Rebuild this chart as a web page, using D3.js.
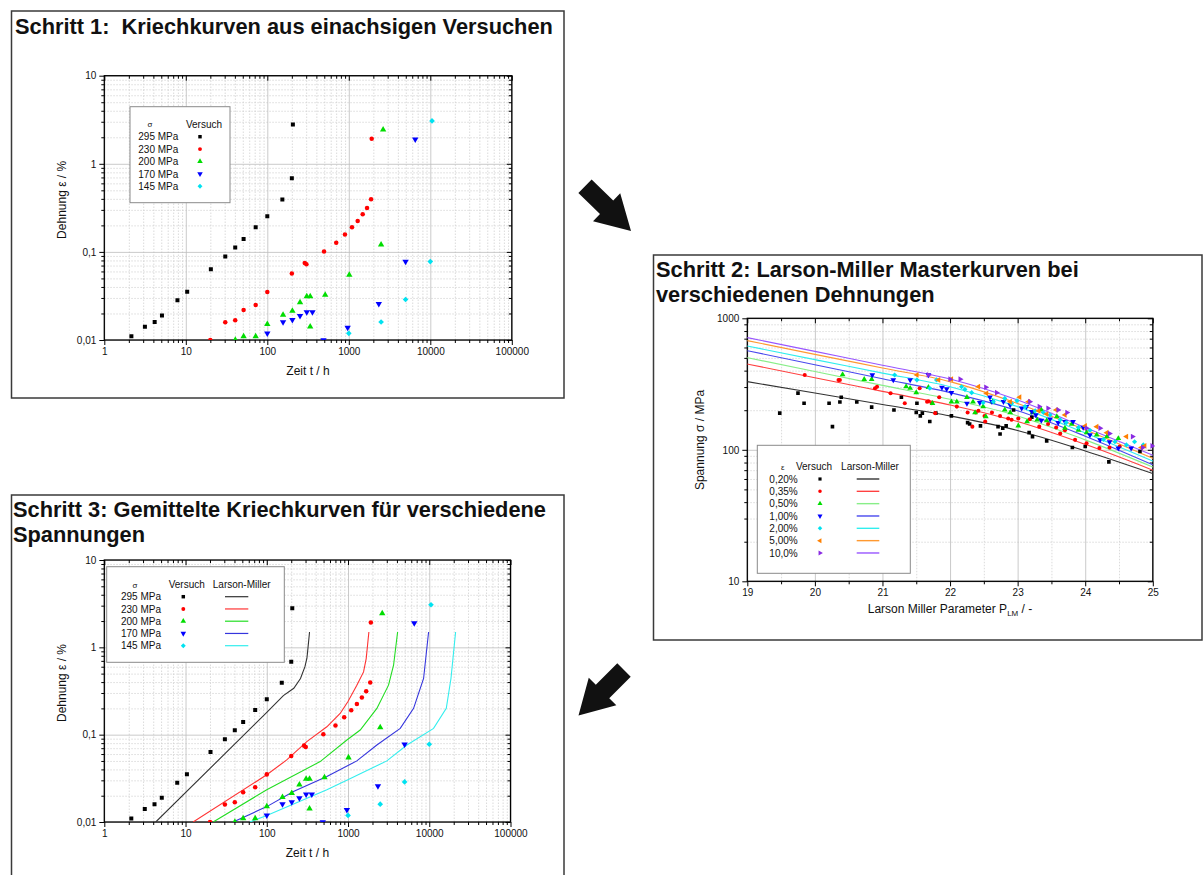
<!DOCTYPE html>
<html lang="de">
<head>
<meta charset="utf-8">
<title>Kriechkurven und Larson-Miller Masterkurven</title>
<script src="https://cdn.jsdelivr.net/npm/d3@7"></script>
<style>
  html, body { margin: 0; padding: 0; background: #fff; }
  svg { display: block; }
  text { font-family: "Liberation Sans", Arial, Helvetica, sans-serif; fill: #111; }
</style>
</head>
<body>
<svg id="fig" width="1203" height="875"></svg>
<script>
// ---------- Schritt 1 / 3: uniaxial creep tests, [time t / h, strain ε / %] ----------
const stressLabels = ["295 MPa", "230 MPa", "200 MPa", "170 MPa", "145 MPa"];

const test295 = [[2.15,0.0110],[3.15,0.0141],[4.15,0.0160],[5.1,0.0190],[7.9,0.0282],[10.4,0.0352],
  [20.3,0.0634],[30.5,0.0885],[40.4,0.112],[51.2,0.140],[72,0.191],[100,0.254],[153,0.394],[200,0.685],[206,2.8]];
const test230 = [[20,0.0100],[30.5,0.0159],[40.4,0.0168],[51.2,0.0219],[72,0.0250],[100,0.0351],[200,0.0570],
  [288,0.0749],[302,0.0723],[497,0.101],[701,0.127],[897,0.158],[1095,0.190],[1285,0.224],[1481,0.267],
  [1674,0.315],[1877,0.395],[1910,1.93]];
const test200 = [[40.5,0.0100],[51.2,0.0110],[72,0.0110],[100,0.0151],[156,0.0193],[203,0.0214],[252,0.0267],
  [305,0.0312],[336,0.0312],[336,0.0142],[513,0.0324],[1014,0.0547],[2490,0.121],[2637,2.44]];
const test170 = [[100,0.0119],[156,0.0160],[203,0.0169],[252,0.0188],[305,0.0208],[358,0.0208],[489,0.0100],
  [968,0.0138],[2334,0.0258],[4972,0.0776],[6535,1.90]];
const test145 = [[1000,0.0119],[2490,0.0160],[4972,0.0288],[10000,0.0776],[10500,3.07]];
const testSeries = [test295, test230, test200, test170, test145];

// creep curves recalculated from the Larson-Miller master curves
const lm295 = [[4.3,0.01],[100,0.18],[160,0.28],[215,0.34],[260,0.44],[295,0.6],[312,0.75],[322,1.0],[336,1.5]];
const lm230 = [[12.4,0.01],[100,0.0347],[176,0.0514],[311,0.0832],[549,0.123],[800,0.175],[995,0.238],
  [1284,0.369],[1553,0.523],[1674,0.743],[1806,1.50]];
const lm200 = [[21.9,0.01],[100,0.0234],[454,0.0492],[968,0.0869],[1413,0.113],[2265,0.200],[3152,0.369],
  [3636,0.624],[4077,1.50]];
const lm170 = [[38.5,0.01],[100,0.015],[213,0.0224],[549,0.0332],[1284,0.0501],[2265,0.0762],[4395,0.118],
  [6412,0.200],[8515,0.440],[9811,1.50]];
const lm145 = [[61.8,0.01],[100,0.0119],[549,0.0234],[995,0.0304],[3005,0.0501],[5310,0.0762],[11300,0.118],
  [16200,0.200],[18500,0.440],[21100,1.50]];
const lmSeries = [lm295, lm230, lm200, lm170, lm145];

// ---------- Schritt 2: Larson-Miller parameter vs. stress ----------
const strainLabels = ["0,20%", "0,35%", "0,50%", "1,00%", "2,00%", "5,00%", "10,0%"];
const lmpGrid = [19, 20, 21, 22, 23, 24, 25];
const master020 = [330, 270, 221, 181, 140, 98, 66];
const master035 = [449, 353, 278, 219, 164, 110, 70];
const master050 = [502, 394, 309, 242, 181, 119, 74];
const master100 = [567, 444, 347, 272, 198, 127, 77];
const master200 = [615, 485, 383, 302, 213, 134, 82];
const master500 = [676, 532, 419, 330, 225, 142, 86];
const master1000 = [713, 560, 440, 345, 239, 148, 91];
const masterSeries = [master020, master035, master050, master100, master200, master500, master1000];

const lmp020 = [[19.48,190],[19.75,270],[19.84,226],[20.21,226],[20.26,150],[20.37,231],[20.39,251],[20.62,231],
  [20.84,211],[21.17,201],[21.28,251],[21.50,192],[21.51,226],[21.56,181],[21.59,190],[21.70,164],[21.79,190],
  [22.02,181],[22.26,161],[22.29,157],[22.45,152],[22.71,150],[22.74,132],[22.78,146],[22.83,152],[22.94,201],
  [23.17,135],[23.21,177],[23.22,126],[23.43,117],[23.81,104],[24.0,106],[24.35,81],[24.81,97]];
const lmp035 = [[19.85,371],[20.35,340],[20.37,340],[20.89,294],[20.92,302],[21.12,269],[21.33,226],[21.55,294],
  [21.66,232],[21.68,234],[21.73,226],[21.78,190],[21.84,251],[22.10,213],[22.26,192],[22.33,150],[22.38,192],
  [22.42,198],[22.51,181],[22.52,164],[22.62,192],[22.74,181],[22.86,173],[22.91,169],[23.01,173],[23.18,171],
  [23.32,150],[23.45,157],[23.57,148],[23.63,133],[23.70,141],[23.85,119],[24.02,112],[24.21,103],[24.36,104],[24.51,106]];
const lmp050 = [[20.41,373],[20.73,344],[20.84,344],[21.35,302],[21.41,294],[21.50,272],[21.68,298],[21.74,226],
  [22.02,232],[22.10,232],[22.25,251],[22.34,232],[22.37,192],[22.49,213],[22.53,179],[22.63,232],[22.81,201],
  [22.89,192],[23.01,152],[23.14,164],[23.22,192],[23.29,169],[23.35,201],[23.43,167],[23.58,179],[23.70,146],
  [23.80,157],[23.90,141],[24.02,135],[24.17,130],[24.32,126],[24.49,122]];
const lmp100 = [[20.85,371],[21.16,340],[21.41,340],[21.68,371],[21.88,298],[21.95,290],[22.02,272],[22.25,225],
  [22.44,228],[22.59,251],[22.62,232],[22.79,232],[22.89,219],[23.06,207],[23.13,213],[23.21,195],[23.27,184],
  [23.35,167],[23.48,171],[23.60,161],[23.70,164],[23.82,164],[23.97,148],[24.07,130],[24.22,119],[24.36,115],
  [24.49,103],[24.68,103]];
const lmp200 = [[21.18,371],[21.51,340],[21.70,294],[21.80,340],[22.17,302],[22.22,288],[22.32,272],[22.49,228],
  [22.64,232],[22.81,246],[22.91,225],[22.99,236],[23.11,213],[23.26,198],[23.38,192],[23.48,184],[23.63,169],
  [23.72,161],[23.90,148],[24.07,141],[24.27,120],[24.44,115],[24.61,109],[24.73,115],[24.86,109]];
const lmp500 = [[21.51,371],[21.83,340],[22.02,344],[22.42,302],[22.54,269],[22.89,232],[23.03,251],[23.16,232],
  [23.31,198],[23.43,187],[23.57,201],[23.70,184],[24.0,152],[24.17,150],[24.32,135],[24.61,126],[24.83,104],[24.88,107]];
const lmp1000 = [[21.68,371],[22.0,344],[22.15,344],[22.53,299],[22.69,272],[23.18,232],[23.32,213],[23.45,207],
  [23.60,201],[23.73,192],[24.02,146],[24.22,146],[24.36,133],[24.70,126],[24.85,104],[24.99,107]];
const lmpSeries = [lmp020, lmp035, lmp050, lmp100, lmp200, lmp500, lmp1000];

// ---------- tick values and labels ----------
const timeTicks = [1, 10, 100, 1000, 10000, 100000];
const timeTickLabels = ["1", "10", "100", "1000", "10000", "100000"];
const strainTicks = [0.01, 0.1, 1, 10];
const strainTickLabels = ["0,01", "0,1", "1", "10"];
const lmpTicks = [19, 20, 21, 22, 23, 24, 25];
const lmpTickLabels = ["19", "20", "21", "22", "23", "24", "25"];
const stressTicks = [10, 100, 1000];
const stressTickLabels = ["10", "100", "1000"];

// ---------- styles ----------
const FONT = '"Liberation Sans", Arial, Helvetica, sans-serif';
const testColors = ["#000000", "#ff0000", "#00dd00", "#0000ff", "#00e2f0"];
const testShapes = ["square", "circle", "up", "down", "diamond"];
const lmColors = ["#333333", "#ff3333", "#22dd22", "#3535dd", "#33eeee"];
const strainColors = ["#000000", "#ff0000", "#00dd00", "#0000ff", "#00e2f0", "#ff8000", "#8a2be2"];
const strainShapes = ["square", "circle", "up", "down", "diamond", "left", "right"];
const masterColors = ["#333333", "#ff4040", "#88ee88", "#4848ee", "#30eeee", "#ff9930", "#9955ff"];

const shapes = {
  square:  { type: d3.symbolSquare,   rot: 0,   k: 1.0 },
  circle:  { type: d3.symbolCircle,   rot: 0,   k: 1.0 },
  up:      { type: d3.symbolTriangle, rot: 0,   k: 1.1 },
  down:    { type: d3.symbolTriangle, rot: 180, k: 1.1 },
  diamond: { type: d3.symbolSquare,   rot: 45,  k: 1.0 },
  left:    { type: d3.symbolTriangle, rot: -90, k: 1.1 },
  right:   { type: d3.symbolTriangle, rot: 90,  k: 1.1 }
};
const symPath = (key, size) => d3.symbol(shapes[key].type, size * shapes[key].k)();

const svg = d3.select("#fig");

// ---------- helpers ----------
function decadeMinors(lo, hi) {
  const out = [];
  for (let d = lo; d < hi; d *= 10)
    for (let k = 2; k <= 9; k++) out.push(+(d * k).toPrecision(3));
  return out;
}

function drawAxes(g, x, y, cfg) {
  const [xl, xr] = x.range();
  const [yb, yt] = y.range();
  const w = xr - xl, h = yb - yt;

  const grid = (axis, tx, ty, stroke, dash) => {
    const a = g.append("g").attr("transform", `translate(${tx},${ty})`).call(axis);
    a.select(".domain").remove();
    a.selectAll("line").attr("stroke", stroke).attr("stroke-width", 0.8)
      .attr("stroke-dasharray", dash);
  };
  grid(d3.axisBottom(x).tickValues(cfg.xMinorGrid).tickSize(-h).tickFormat(""), 0, yb, "#d2d2d2", "1.5,1.5");
  grid(d3.axisLeft(y).tickValues(cfg.yMinorGrid).tickSize(-w).tickFormat(""), xl, 0, "#d2d2d2", "1.5,1.5");
  grid(d3.axisBottom(x).tickValues(cfg.xMajor).tickSize(-h).tickFormat(""), 0, yb, "#bcbcbc", null);
  grid(d3.axisLeft(y).tickValues(cfg.yMajor).tickSize(-w).tickFormat(""), xl, 0, "#bcbcbc", null);

  const ticks = (axis, tx, ty) => {
    const a = g.append("g").attr("transform", `translate(${tx},${ty})`).call(axis);
    a.select(".domain").remove();
    a.attr("font-family", FONT).attr("font-size", 10);
    a.selectAll("line").attr("stroke", "#000").attr("stroke-width", 1);
    a.selectAll("text").attr("fill", "#111");
    return a;
  };
  ticks(d3.axisBottom(x).tickValues(cfg.xMajor).tickSize(5).tickPadding(3)
    .tickFormat((d, i) => cfg.xLabels[i]), 0, yb);
  ticks(d3.axisBottom(x).tickValues(cfg.xMinorTicks).tickSize(3).tickFormat(""), 0, yb);
  ticks(d3.axisTop(x).tickValues(cfg.xMajor).tickSize(-5).tickFormat(""), 0, yt);
  ticks(d3.axisTop(x).tickValues(cfg.xMinorTicks).tickSize(-3).tickFormat(""), 0, yt);
  ticks(d3.axisLeft(y).tickValues(cfg.yMajor).tickSize(5).tickPadding(3)
    .tickFormat((d, i) => cfg.yLabels[i]), xl, 0);
  ticks(d3.axisLeft(y).tickValues(cfg.yMinorTicks).tickSize(3).tickFormat(""), xl, 0);
  ticks(d3.axisRight(y).tickValues(cfg.yMajor).tickSize(-5).tickFormat(""), xr, 0);
  ticks(d3.axisRight(y).tickValues(cfg.yMinorTicks).tickSize(-3).tickFormat(""), xr, 0);

  g.append("rect").attr("x", xl).attr("y", yt).attr("width", w).attr("height", h)
    .attr("fill", "none").attr("stroke", "#000").attr("stroke-width", 1.3);
}

function clipFor(id, x, y) {
  const [xl, xr] = x.range();
  const [yb, yt] = y.range();
  svg.append("clipPath").attr("id", id).append("rect")
    .attr("x", xl - 2).attr("y", yt).attr("width", xr - xl + 4).attr("height", yb - yt);
  return `url(#${id})`;
}

function drawPoints(g, data, x, y, shape, color, size) {
  g.append("g").selectAll("path").data(data).join("path")
    .attr("d", symPath(shape, size))
    .attr("transform", d => `translate(${x(d[0])},${y(d[1])}) rotate(${shapes[shape].rot})`)
    .attr("fill", color);
}

function panelBox(x0, y0, x1, y1) {
  svg.append("rect").attr("x", x0).attr("y", y0).attr("width", x1 - x0).attr("height", y1 - y0)
    .attr("fill", "#fff").attr("stroke", "#3a3a3a").attr("stroke-width", 1.5);
}

function title(lines, x, y0, dy) {
  lines.forEach((t, i) => svg.append("text").attr("x", x).attr("y", y0 + i * dy)
    .attr("font-size", 21.8).attr("font-weight", "bold").style("white-space", "pre").text(t));
}

function arrowPath(tail, tip, shaftHalf, headHalf, headLen) {
  const dx = tip[0] - tail[0], dy = tip[1] - tail[1], L = Math.hypot(dx, dy);
  const ux = dx / L, uy = dy / L, nx = -uy, ny = ux;
  const bx = tip[0] - ux * headLen, by = tip[1] - uy * headLen;
  const pts = [
    [tail[0] + nx * shaftHalf, tail[1] + ny * shaftHalf],
    [bx + nx * shaftHalf, by + ny * shaftHalf],
    [bx + nx * headHalf, by + ny * headHalf],
    tip,
    [bx - nx * headHalf, by - ny * headHalf],
    [bx - nx * shaftHalf, by - ny * shaftHalf],
    [tail[0] - nx * shaftHalf, tail[1] - ny * shaftHalf]
  ];
  return "M" + pts.map(p => p.join(",")).join("L") + "Z";
}

function creepAxes(x, y, clipId) {
  const g = svg.append("g");
  drawAxes(g, x, y, {
    xMajor: timeTicks, xLabels: timeTickLabels,
    xMinorGrid: decadeMinors(1, 100000), xMinorTicks: decadeMinors(1, 100000),
    yMajor: strainTicks, yLabels: strainTickLabels,
    yMinorGrid: decadeMinors(0.01, 10), yMinorTicks: decadeMinors(0.01, 10)
  });
  const [xl, xr] = x.range();
  const [yb, yt] = y.range();
  g.append("text").attr("transform", `translate(${xl - 38},${(yb + yt) / 2 - 8}) rotate(-90)`)
    .attr("text-anchor", "middle").attr("font-size", 12).text("Dehnung ε / %");
  g.append("text").attr("x", (xl + xr) / 2).attr("y", yb + 35)
    .attr("text-anchor", "middle").attr("font-size", 12).text("Zeit t / h");
  return clipFor(clipId, x, y);
}

// ---------- panel frames, titles, arrows ----------
panelBox(11.5, 11, 564, 398);
panelBox(653.5, 255, 1202, 640);
panelBox(11.5, 495, 564, 880);

title(["Schritt 1:  Kriechkurven aus einachsigen Versuchen"], 15, 34, 0);
title(["Schritt 2: Larson-Miller Masterkurven bei", "verschiedenen Dehnungen"], 656, 277, 24.5);
title(["Schritt 3: Gemittelte Kriechkurven für verschiedene", "Spannungen"], 13, 517, 24.5);

svg.append("path").attr("d", arrowPath([585, 186.3], [631, 231], 9.5, 19.5, 34)).attr("fill", "#111");
svg.append("path").attr("d", arrowPath([624, 670], [578.5, 715.5], 9.5, 19.5, 34)).attr("fill", "#111");

// ---------- Schritt 1 ----------
{
  const x = d3.scaleLog().domain([1, 100000]).range([104.3, 511.8]);
  const y = d3.scaleLog().domain([0.01, 10]).range([340, 75.7]);
  const clip = creepAxes(x, y, "clip1");
  const pg = svg.append("g").attr("clip-path", clip);
  testSeries.forEach((s, i) => drawPoints(pg, s, x, y, testShapes[i], testColors[i], 16));

  // legend
  const lg = svg.append("g");
  lg.append("rect").attr("x", 130).attr("y", 106.7).attr("width", 100).attr("height", 96)
    .attr("fill", "#fff").attr("stroke", "#8a8a8a").attr("stroke-width", 1);
  lg.append("text").attr("x", 150).attr("y", 126.5).attr("text-anchor", "middle").attr("font-size", 8).text("σ");
  lg.append("text").attr("x", 204).attr("y", 127.5).attr("text-anchor", "middle").attr("font-size", 10).text("Versuch");
  stressLabels.forEach((lab, i) => {
    const cy = 136.7 + i * 12.4;
    lg.append("text").attr("x", 138.3).attr("y", cy + 3.6).attr("font-size", 10).text(lab);
    lg.append("path").attr("d", symPath(testShapes[i], 12))
      .attr("transform", `translate(200,${cy}) rotate(${shapes[testShapes[i]].rot})`).attr("fill", testColors[i]);
  });
}

// ---------- Schritt 2 ----------
{
  const x = d3.scaleLinear().domain([19, 25]).range([747.3, 1152.8]);
  const y = d3.scaleLog().domain([10, 1000]).range([581.3, 318.3]);
  const g = svg.append("g");
  const halves = [19.5, 20.5, 21.5, 22.5, 23.5, 24.5];
  drawAxes(g, x, y, {
    xMajor: lmpTicks, xLabels: lmpTickLabels,
    xMinorGrid: halves, xMinorTicks: halves,
    yMajor: stressTicks, yLabels: stressTickLabels,
    yMinorGrid: decadeMinors(10, 1000), yMinorTicks: decadeMinors(10, 1000)
  });
  g.append("text").attr("transform", "translate(703.5,440) rotate(-90)")
    .attr("text-anchor", "middle").attr("font-size", 12).text("Spannung σ / MPa");
  const xt = g.append("text").attr("x", 950).attr("y", 613).attr("text-anchor", "middle").attr("font-size", 12);
  xt.append("tspan").text("Larson Miller Parameter P");
  xt.append("tspan").attr("font-size", 8).attr("dy", 3).text("LM");
  xt.append("tspan").attr("dy", -3).text(" / -");

  const clip = clipFor("clip2", x, y);
  const pg = svg.append("g").attr("clip-path", clip);
  const line = d3.line().x(d => x(d[0])).y(d => y(d[1])).curve(d3.curveMonotoneX);
  masterSeries.forEach((s, i) => {
    pg.append("path").attr("d", line(lmpGrid.map((p, j) => [p, s[j]])))
      .attr("fill", "none").attr("stroke", masterColors[i]).attr("stroke-width", 1.1);
  });
  lmpSeries.forEach((s, i) => drawPoints(pg, s, x, y, strainShapes[i], strainColors[i], 13));

  // legend
  const lg = svg.append("g");
  lg.append("rect").attr("x", 757.3).attr("y", 445.3).attr("width", 153).attr("height", 128)
    .attr("fill", "#fff").attr("stroke", "#8a8a8a").attr("stroke-width", 1);
  lg.append("text").attr("x", 782.7).attr("y", 469.5).attr("text-anchor", "middle").attr("font-size", 8).text("ε");
  lg.append("text").attr("x", 814).attr("y", 469.5).attr("text-anchor", "middle").attr("font-size", 10).text("Versuch");
  lg.append("text").attr("x", 870).attr("y", 469.5).attr("text-anchor", "middle").attr("font-size", 10).text("Larson-Miller");
  strainLabels.forEach((lab, i) => {
    const cy = 479 + i * 12.33;
    lg.append("text").attr("x", 797.7).attr("y", cy + 3.6).attr("text-anchor", "end").attr("font-size", 10).text(lab);
    lg.append("path").attr("d", symPath(strainShapes[i], 10))
      .attr("transform", `translate(820,${cy}) rotate(${shapes[strainShapes[i]].rot})`).attr("fill", strainColors[i]);
    lg.append("line").attr("x1", 856.7).attr("x2", 879.3).attr("y1", cy).attr("y2", cy)
      .attr("stroke", masterColors[i]).attr("stroke-width", 1.4);
  });
}

// ---------- Schritt 3 ----------
{
  const x = d3.scaleLog().domain([1, 100000]).range([104.3, 510.5]);
  const y = d3.scaleLog().domain([0.01, 10]).range([822, 560]);
  const clip = creepAxes(x, y, "clip3");
  const pg = svg.append("g").attr("clip-path", clip);
  const line = d3.line().x(d => x(d[0])).y(d => y(d[1]));
  lmSeries.forEach((s, i) => pg.append("path").attr("d", line(s))
    .attr("fill", "none").attr("stroke", lmColors[i]).attr("stroke-width", 1.1));
  testSeries.forEach((s, i) => drawPoints(pg, s, x, y, testShapes[i], testColors[i], 16));

  // legend
  const lg = svg.append("g");
  lg.append("rect").attr("x", 106.7).attr("y", 566.7).attr("width", 177.6).attr("height", 95.6)
    .attr("fill", "#fff").attr("stroke", "#8a8a8a").attr("stroke-width", 1);
  lg.append("text").attr("x", 135).attr("y", 587.5).attr("text-anchor", "middle").attr("font-size", 8).text("σ");
  lg.append("text").attr("x", 186.7).attr("y", 588.3).attr("text-anchor", "middle").attr("font-size", 10).text("Versuch");
  lg.append("text").attr("x", 241.7).attr("y", 588.3).attr("text-anchor", "middle").attr("font-size", 10).text("Larson-Miller");
  stressLabels.forEach((lab, i) => {
    const cy = 596.7 + i * 12.25;
    lg.append("text").attr("x", 121).attr("y", cy + 3.6).attr("font-size", 10).text(lab);
    lg.append("path").attr("d", symPath(testShapes[i], 12))
      .attr("transform", `translate(183.3,${cy}) rotate(${shapes[testShapes[i]].rot})`).attr("fill", testColors[i]);
    lg.append("line").attr("x1", 225).attr("x2", 248.3).attr("y1", cy).attr("y2", cy)
      .attr("stroke", lmColors[i]).attr("stroke-width", 1.2);
  });
}
</script>
</body>
</html>
